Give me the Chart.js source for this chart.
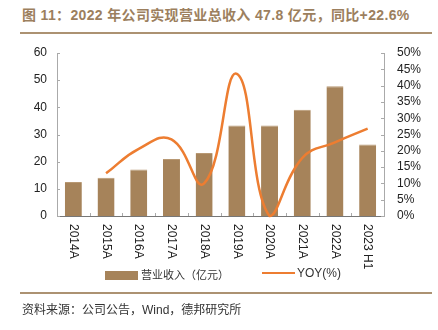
<!DOCTYPE html>
<html>
<head>
<meta charset="utf-8">
<script src="https://cdn.jsdelivr.net/npm/chart.js@4.4.0/dist/chart.umd.min.js"></script>
<style>
  html, body { margin: 0; padding: 0; background: #fff; }
  #wrap { position: relative; width: 438px; height: 330px; overflow: hidden;
          font-family: "Liberation Sans", "Noto Sans CJK SC", sans-serif; }
  #chart { position: absolute; left: 0; top: 0; }
  .title { position: absolute; left: 22px; top: 4px; font-size: 14px; font-weight: bold;
           color: #9c7f5e; white-space: nowrap; letter-spacing: 0.35px; }
  .rule { position: absolute; left: 20px; width: 412px; height: 2px; background: #ac9272; }
  .legend { position: absolute; top: 266px; font-size: 11px; color: #333; white-space: nowrap; }
  .source { position: absolute; left: 22px; top: 300px; font-size: 12px; color: #333;
            white-space: nowrap; }
</style>
</head>
<body>
<div id="wrap">
  <div class="title">图 11：2022 年公司实现营业总收入 47.8 亿元，同比+22.6%</div>
  <div class="rule" style="top:32px"></div>
  <canvas id="chart" width="438" height="330"></canvas>
  <div class="legend" style="left:105px">
    <span style="display:inline-block;width:33px;height:9px;background:#a6835a;vertical-align:middle;margin-top:-2px"></span><span style="margin-left:3px;font-family:'Noto Sans CJK SC'">营业收入（亿元）</span>
  </div>
  <div class="legend" style="left:262px">
    <span style="display:inline-block;width:33px;height:2.5px;background:#ed7d31;vertical-align:middle;margin-top:-2px"></span><span style="margin-left:2px;font-size:12px">YOY(%)</span>
  </div>
  <div class="rule" style="top:292px"></div>
  <div class="source"><span style="font-family:'Noto Sans CJK SC'">资料来源：公司公告，</span>Wind<span style="font-family:'Noto Sans CJK SC'">，德邦研究所</span></div>
</div>
<script>
// data
const years = ['2014A', '2015A', '2016A', '2017A', '2018A', '2019A', '2020A', '2021A', '2022A', '2023 H1'];
const revenue = [12.5, 14.1, 17.1, 21.0, 23.2, 33.3, 33.3, 39.1, 47.8, 26.3];
const yoy = [null, 13.1, 20.6, 23.5, 10.0, 43.6, 0.0, 17.8, 22.6, 26.8];
const leftTicks = [0, 10, 20, 30, 40, 50, 60];
const rightTicks = [0, 5, 10, 15, 20, 25, 30, 35, 40, 45, 50];

const tickFont = { family: 'Liberation Sans', size: 12 };

// rotated category labels + small inward tick marks
const axisDecor = {
  id: 'axisDecor',
  afterDraw(chart) {
    const ctx = chart.ctx;
    const x = chart.scales.x, yl = chart.scales.y, yr = chart.scales.y1;
    const area = chart.chartArea;
    ctx.save();
    ctx.strokeStyle = '#aaa';
    ctx.lineWidth = 1;
    // x boundary ticks
    for (let i = 1; i < years.length; i++) {
      const px = Math.round((x.getPixelForValue(i - 1) + x.getPixelForValue(i)) / 2) + 0.5;
      ctx.beginPath(); ctx.moveTo(px, area.bottom); ctx.lineTo(px, area.bottom - 3); ctx.stroke();
    }
    // y ticks
    yl.ticks.forEach(t => {
      const py = Math.round(yl.getPixelForValue(t.value)) + 0.5;
      ctx.beginPath(); ctx.moveTo(area.left, py); ctx.lineTo(area.left + 3, py); ctx.stroke();
    });
    yr.ticks.forEach(t => {
      const py = Math.round(yr.getPixelForValue(t.value)) + 0.5;
      ctx.beginPath(); ctx.moveTo(area.right, py); ctx.lineTo(area.right - 3, py); ctx.stroke();
    });
    // labels, reading top to bottom
    ctx.fillStyle = '#222';
    ctx.font = '12px "Liberation Sans"';
    ctx.textAlign = 'left';
    ctx.textBaseline = 'middle';
    years.forEach((lab, i) => {
      ctx.save();
      ctx.translate(x.getPixelForValue(i), area.bottom + 8);
      ctx.rotate(Math.PI / 2);
      ctx.fillText(lab, 0, 0);
      ctx.restore();
    });
    ctx.restore();
  }
};

new Chart(document.getElementById('chart'), {
  data: {
    labels: years,
    datasets: [
      {
        type: 'line',
        label: 'YOY(%)',
        data: yoy,
        yAxisID: 'y1',
        borderColor: '#ed7d31',
        borderWidth: 2.5,
        pointRadius: 0,
        tension: 0.45,
        clip: 4,
        order: 0
      },
      {
        type: 'bar',
        label: '营业收入（亿元）',
        data: revenue,
        yAxisID: 'y',
        backgroundColor: '#a6835a',
        borderColor: '#b89873',
        borderWidth: { top: 1, left: 0, right: 0, bottom: 0 },
        barPercentage: 0.52,
        categoryPercentage: 1,
        order: 1
      }
    ]
  },
  options: {
    responsive: false,
    animation: false,
    layout: { padding: { top: 53, left: 0, right: 0, bottom: 0 } },
    plugins: { legend: { display: false }, tooltip: { enabled: false } },
    scales: {
      x: {
        grid: { display: false },
        border: { color: '#777', width: 1 },
        ticks: { display: false },
        afterFit(s) { s.height = 114; }
      },
      y: {
        position: 'left',
        min: 0, max: 60,
        afterBuildTicks(s) { s.ticks = leftTicks.map(v => ({ value: v })); },
        grid: { display: false },
        border: { color: '#aaa' },
        ticks: { color: '#222', font: tickFont, padding: 2, autoSkip: false },
        afterFit(s) { s.width = 57; }
      },
      y1: {
        position: 'right',
        min: 0, max: 50,
        afterBuildTicks(s) { s.ticks = rightTicks.map(v => ({ value: v })); },
        grid: { display: false },
        border: { color: '#aaa' },
        ticks: { color: '#222', font: tickFont, padding: 5, autoSkip: false,
                 callback: v => v + '%' },
        afterFit(s) { s.width = 54; }
      }
    }
  },
  plugins: [axisDecor]
});
</script>
</body>
</html>
